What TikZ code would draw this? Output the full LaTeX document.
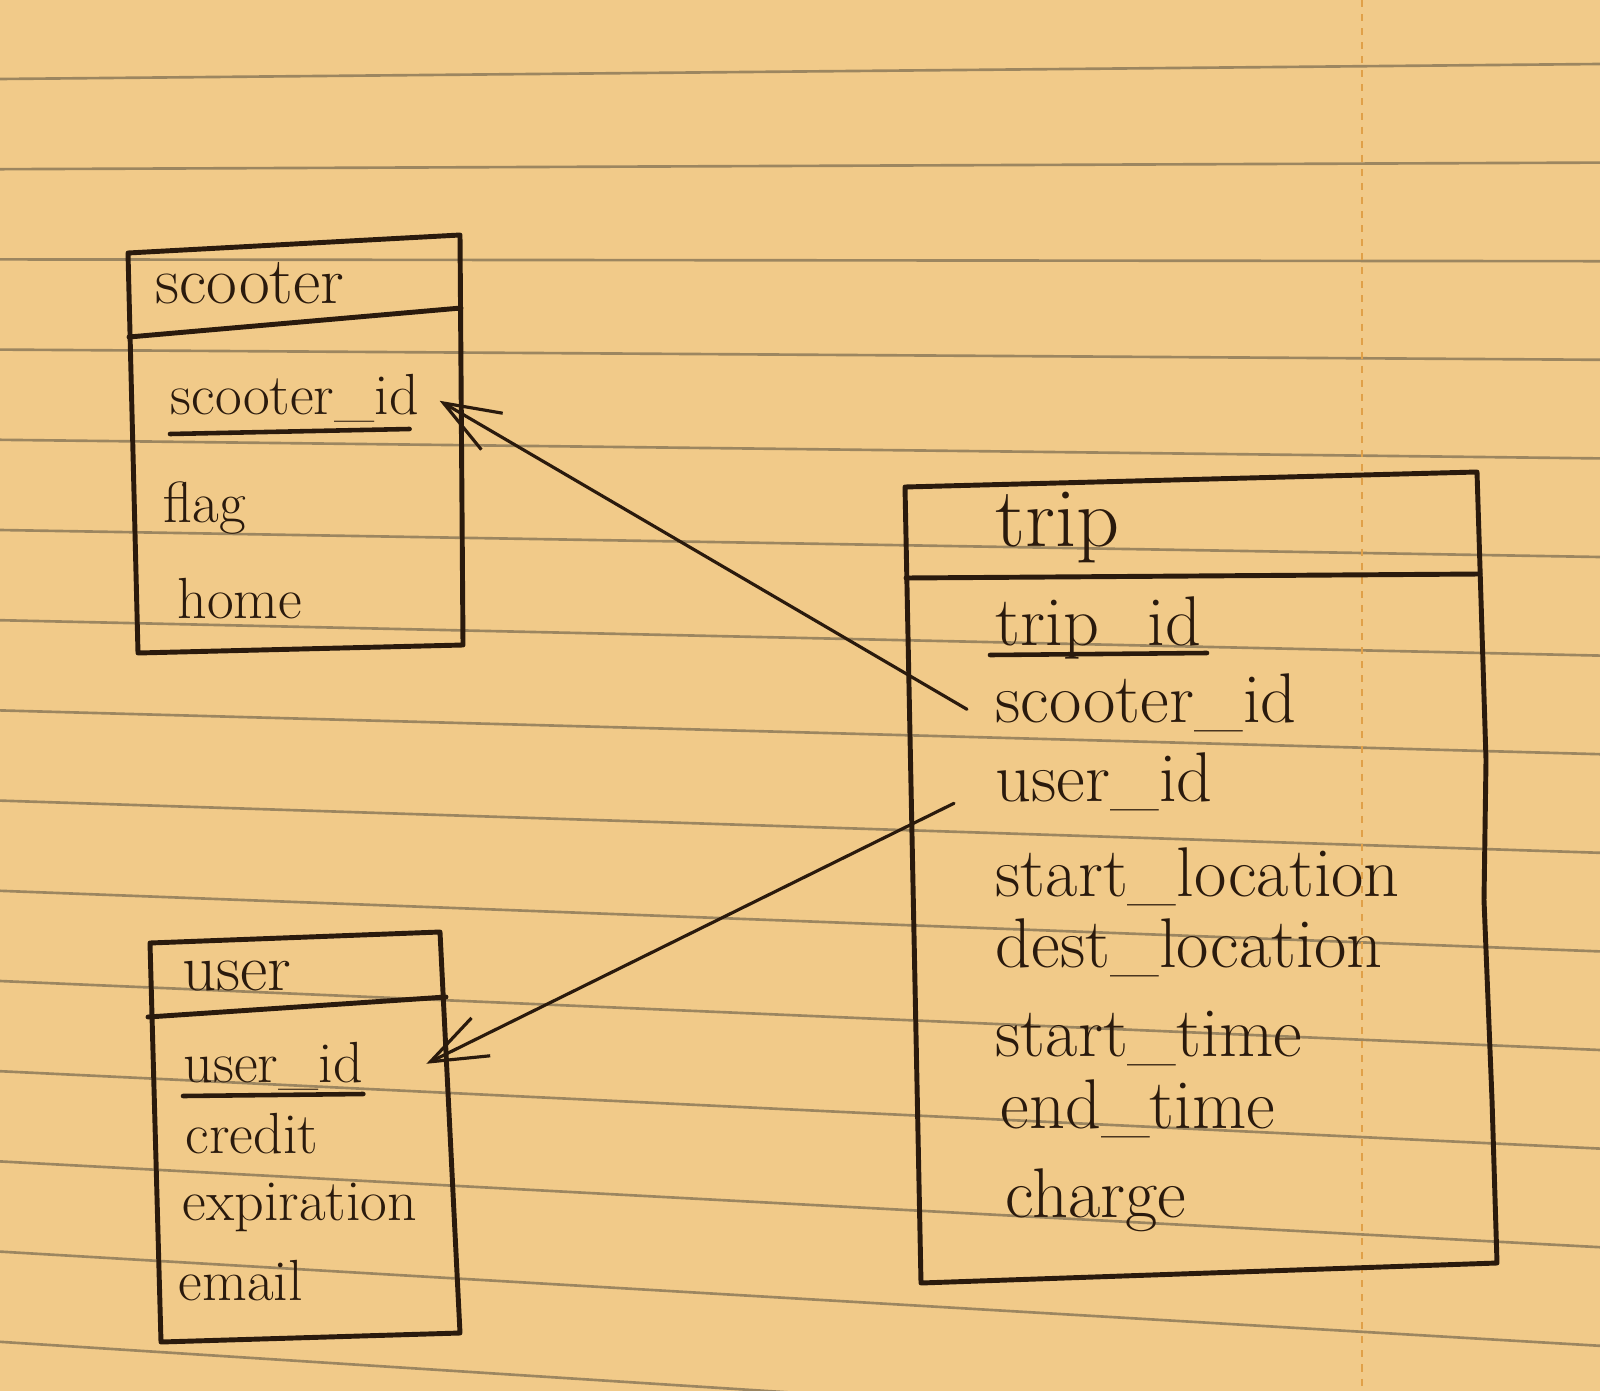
\documentclass[tikz,border=0pt]{standalone}
\usepackage{fontspec}
\usepackage{xcolor}
\usepackage{tikz}
\usetikzlibrary{positioning, arrows.meta, calc}

\definecolor{paper}{HTML}{F1CA89}
\definecolor{ink}{HTML}{2A1A0D}
\definecolor{ruling}{HTML}{9C8660}
\definecolor{marginred}{HTML}{E0A048}

\tikzset{
  ruleline/.style={draw=ruling, line width=0.75pt},
  marginline/.style={draw=marginred, line width=0.8pt, dash pattern=on 2pt off 2pt},
  tbl/.style={draw=ink, line width=1.4pt, line join=round, line cap=round},
  hdr/.style={anchor=base west, inner sep=0pt, text=ink, font=\fontsize{19}{22}\selectfont},
  thdr/.style={hdr, font=\fontsize{24}{28}\selectfont},
  fld/.style={anchor=base west, inner sep=0pt, text=ink, font=\fontsize{16.5}{20}\selectfont},
  tfld/.style={fld, font=\fontsize{20}{24}\selectfont},
  keyline/.style={draw=ink, line width=1.3pt, line cap=round},
  fk/.style={draw=ink, line width=0.9pt, line cap=round, -{Straight Barb[length=16pt, width=12pt]}},
}

\begin{document}
\begin{tikzpicture}[x=0.01cm, y=-0.01cm]
        % Paper (1600 x 1391, y grows downwards)
        \useasboundingbox (0,0) rectangle (1600,1391);
        \fill[paper] (0,0) rectangle (1600,1391);
        % Ruled lines, spreading a little to the right
        \begin{scope}
          \clip (0,0) rectangle (1600,1391);
          \foreach \i in {0,...,14} {\draw[ruleline] (0,{79+90.2*\i}) -- (1600,{64+98.6*\i});}
          \draw[marginline] (1362,0) -- (1362,1391);
        \end{scope}
        % scooter table
        \draw[tbl] (128,253) -- (460,235) -- (463,645) -- (138,653) -- cycle;
        \draw[tbl] (129,337) -- (461,308);
        \node[hdr] (sc-name) at (155,303) {scooter};
        \node[fld] (sc-id)   at (170,414) {scooter\_id};
        \node[fld] (sc-flag) at (163,522) {flag};
        \node[fld] (sc-home) at (177,618) {home};
        \draw[keyline] ($(sc-id.base west)+(0,20)$) -- ($(sc-id.base east)+(-10,15)$);
        % trip table
        \draw[tbl] (905,487) -- (1477,472) -- (1481,600) -- (1486,760) -- (1484,900)
                   -- (1492,1100) -- (1497,1263) -- (921,1283) -- cycle;
        \draw[tbl] (906,578) -- (1480,574);
        \node[thdr] (tr-name)  at (995,546)  {trip};
        \node[tfld] (tr-id)    at (995,645)  {trip\_id};
        \node[tfld] (tr-scid)  at (995,722)  {scooter\_id};
        \node[tfld] (tr-uid)   at (995,801)  {user\_id};
        \node[tfld] (tr-sloc)  at (995,896)  {start\_location};
        \node[tfld] (tr-dloc)  at (995,967)  {dest\_location};
        \node[tfld] (tr-stime) at (995,1056) {start\_time};
        \node[tfld] (tr-etime) at (1000,1128) {end\_time};
        \node[tfld] (tr-chg)   at (1005,1217) {charge};
        \draw[keyline] ($(tr-id.base west)+(-5,10)$) -- ($(tr-id.base east)+(5,8)$);
        % user table
        \draw[tbl] (150,943) -- (440,932) -- (460,1333) -- (161,1342) -- cycle;
        \draw[tbl] (148,1017) -- (446,997);
        \node[hdr] (us-name) at (182,990)  {user};
        \node[fld] (us-id)   at (183,1082) {user\_id};
        \node[fld] (us-cred) at (185,1153) {credit};
        \node[fld] (us-exp)  at (182,1220) {expiration};
        \node[fld] (us-mail) at (178,1300) {email};
        \draw[keyline] ($(us-id.base west)+(0,14)$) -- ($(us-id.base east)+(0,12)$);
        % Foreign keys
        \draw[fk] ($(tr-scid.west)+(-28,7)$) -- ($(sc-id.east)+(20,3)$);
        \draw[fk] ($(tr-uid.west)+(-41,22)$) -- ($(us-id.east)+(63,-2)$);
      \end{tikzpicture}
\end{document}
